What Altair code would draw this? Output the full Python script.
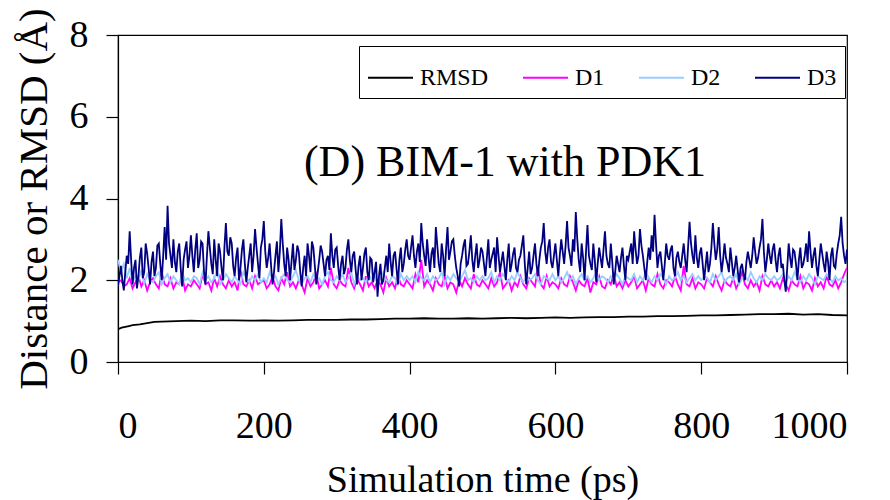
import altair as alt
import pandas as pd

FONT = "Liberation Serif, Times New Roman, serif"

# time axes (ps)
t_d3 = list(range(0, 1001, 2))
t_dist = list(range(0, 1001, 4))

d3 = [
    1.85, 2.1, 2.35, 2.0, 1.75, 2.2, 2.6, 2.4, 3.2, 2.5, 1.9, 2.3, 2.5, 1.8, 2.1, 2.55, 2.8, 2.05, 2.2, 2.9,
    2.65, 2.3, 1.9, 2.45, 2.7, 2.1, 2.3, 2.85, 2.9, 2.4, 2.0, 2.6, 3.3, 2.5, 3.82, 2.9, 2.6, 2.3, 3.0, 2.45,
    2.2, 2.7, 2.9, 2.3, 1.85, 2.5, 2.75, 2.95, 2.3, 2.6,
    3.1, 2.6, 2.2, 2.75, 3.15, 2.3, 2.5, 2.95, 2.9, 2.2, 1.9, 2.6, 3.2, 2.8, 2.4, 2.15, 3.0, 2.5, 2.1, 2.9,
    2.7, 2.3, 2.0, 2.8, 3.4, 2.7, 2.6, 3.05, 2.9, 2.35, 2.1, 2.55, 2.8, 2.0, 2.3, 2.75, 3.0, 2.4, 1.95, 2.3,
    2.6, 2.9, 2.2, 2.6, 3.25, 2.8, 2.4, 2.05, 2.8, 3.0,
    3.45, 2.7, 2.3, 2.55, 2.9, 2.35, 1.9, 2.2, 2.6, 2.95, 2.2, 2.7, 3.5, 2.9, 2.4, 2.1, 2.8, 2.5, 2.0, 2.45,
    2.9, 2.25, 2.5, 2.85, 2.7, 2.2, 1.85, 2.3, 2.6, 2.1, 2.9, 2.6, 2.2, 2.95, 2.8, 2.35, 1.9, 2.2, 2.5, 2.85,
    2.7, 2.4, 2.1, 2.5, 2.6, 2.25, 3.15, 2.6, 2.3, 2.75,
    2.8, 2.35, 2.0, 2.4, 2.6, 2.15, 2.3, 2.75, 3.0, 2.5, 2.2, 2.6, 2.7, 2.25, 1.9, 2.35, 2.6, 2.0, 2.3, 2.65,
    2.8, 2.2, 2.0, 2.55, 2.5, 1.95, 2.2, 2.45, 1.6, 2.1, 2.4, 1.9, 2.0, 2.3, 2.6, 2.2, 2.9, 2.45, 2.1, 2.6,
    2.7, 2.3, 1.9, 2.5, 2.8, 2.2, 2.4, 2.75, 3.0, 2.6,
    2.5, 2.8, 3.1, 2.6, 2.3, 2.7, 2.9, 2.45, 3.4, 2.9, 2.6, 2.35, 3.0, 2.55, 2.2, 2.65, 2.8, 2.3, 3.3, 2.85,
    2.4, 2.2, 2.9, 2.6, 2.1, 2.75, 3.3, 2.5, 2.7, 2.95, 3.0, 2.6, 2.3, 2.1, 1.85, 2.4, 2.6, 2.85, 3.0, 2.35,
    2.4, 2.7, 3.1, 2.5, 2.2, 2.6, 2.9, 2.3, 2.5, 2.8,
    2.7, 2.4, 2.1, 2.55, 3.0, 2.3, 2.5, 2.65, 2.8, 2.2, 3.05, 2.6, 2.2, 2.45, 2.7, 2.35, 2.0, 2.5, 2.9, 2.2,
    2.4, 2.65, 2.8, 2.3, 2.2, 2.5, 2.6, 2.85, 3.1, 2.4, 1.9, 2.3, 2.7, 2.15, 2.3, 2.6, 2.9, 2.4, 2.1, 2.5,
    2.8, 2.95, 3.4, 2.7, 2.4, 2.8, 3.0, 2.45, 2.3, 2.6,
    2.9, 2.5, 2.1, 2.6, 3.0, 2.7, 2.4, 2.85, 3.45, 2.8, 2.6, 2.35, 3.0, 2.7, 3.67, 3.0, 2.5, 2.2, 2.9, 2.55,
    2.0, 2.7, 3.35, 2.6, 2.4, 2.25, 2.9, 2.5, 1.95, 2.4, 2.8, 2.55, 2.3, 2.75, 3.2, 2.6, 2.4, 2.3, 2.9, 2.45,
    1.9, 2.2, 2.6, 2.4, 2.2, 2.55, 2.8, 2.35, 2.0, 2.6,
    2.5, 2.7, 2.9, 2.4, 3.2, 2.75, 2.4, 2.6, 3.25, 2.85, 2.6, 2.3, 2.0, 2.45, 2.8, 2.5, 3.1, 2.7, 3.6, 2.9,
    2.3, 2.6, 2.7, 2.35, 2.0, 2.4, 2.9, 2.6, 2.5, 2.75, 2.85, 2.3, 2.1, 2.55, 2.7, 2.45, 2.3, 2.6, 2.9, 2.5,
    2.2, 2.8, 3.43, 2.9, 2.6, 2.4, 3.1, 2.55, 2.3, 2.65,
    2.8, 2.4, 2.0, 2.35, 2.7, 2.2, 2.4, 2.8, 3.4, 2.9, 2.5, 2.75, 3.3, 2.6, 2.2, 2.5, 2.9, 2.55, 2.4, 2.2,
    2.8, 2.45, 2.1, 2.3, 2.6, 2.25, 1.95, 2.3, 2.4, 2.15, 2.0, 2.45, 2.7, 2.5, 2.3, 2.6, 3.05, 2.7, 2.4, 2.55,
    2.8, 3.0, 3.5, 2.7, 2.2, 2.5, 2.9, 2.6, 2.4, 2.75,
    2.9, 2.5, 2.2, 2.6, 2.8, 2.3, 2.4, 2.0, 1.72, 2.3, 2.9, 2.55, 2.3, 2.75, 2.7, 2.4, 2.0, 2.5, 2.8, 2.3,
    2.4, 2.6, 2.9, 2.45, 3.2, 2.7, 2.3, 2.6, 2.8, 2.35, 2.1, 2.5, 2.9, 2.65, 2.4, 2.2, 2.7, 2.45, 2.0, 2.6,
    2.8, 2.35, 2.3, 2.65, 2.9, 3.1, 3.55, 2.9, 2.6, 2.4, 2.75,
]

d1 = [
    1.95, 2.0, 1.85, 1.9, 2.05, 1.8, 1.95, 2.1, 1.85, 2.0, 1.75, 1.95, 2.05, 1.9, 1.8, 2.2, 1.9, 1.85, 2.05, 1.8, 1.95, 1.9, 2.1, 1.75, 1.9,
    1.85, 2.0, 1.9, 1.8, 2.15, 1.9, 1.95, 1.75, 2.05, 1.85, 2.1, 1.9, 1.8, 2.0, 1.85, 1.95, 1.75, 2.25, 1.9, 1.85, 2.0, 1.8, 2.1, 1.9, 1.95,
    2.0, 1.8, 1.9, 2.1, 1.85, 1.75, 2.05, 1.9, 2.2, 1.85, 1.95, 1.8, 2.0, 1.9, 1.7, 2.05, 1.85, 1.95, 2.15, 1.8, 1.9, 2.0, 1.85, 2.3, 1.9,
    1.8, 2.0, 1.9, 1.85, 2.3, 1.95, 1.8, 2.05, 1.9, 1.75, 2.1, 1.85, 1.95, 1.8, 2.0, 1.9, 1.7, 2.05, 1.85, 1.95, 1.8, 2.1, 1.9, 1.85, 2.0,
    1.9, 1.8, 2.15, 1.95, 2.5, 1.85, 2.0, 1.9, 1.75, 2.05, 1.9, 1.85, 2.1, 1.8, 1.95, 1.9, 1.7, 2.0, 1.85, 2.05, 1.9, 1.8, 2.15, 1.9, 1.85,
    2.0, 1.9, 1.8, 2.05, 1.85, 1.95, 2.2, 1.8, 1.9, 2.0, 1.75, 1.95, 1.85, 2.1, 1.9, 1.8, 2.05, 1.95, 1.85, 2.3, 1.9, 1.8, 2.1, 1.85, 1.95,
    1.9, 1.8, 2.05, 1.9, 1.85, 2.1, 1.95, 1.75, 2.0, 1.9, 1.85, 2.05, 1.7, 1.95, 1.9, 2.1, 1.85, 1.8, 2.0, 1.9, 2.15, 1.85, 1.95, 1.8, 2.0,
    1.85, 1.95, 2.1, 1.8, 1.9, 2.0, 1.75, 2.05, 1.9, 1.85, 2.15, 1.9, 1.8, 2.0, 1.95, 1.85, 2.1, 1.9, 1.75, 2.35, 1.9, 1.85, 2.05, 1.8, 1.95,
    1.9, 1.8, 2.05, 1.95, 1.85, 2.1, 1.9, 1.75, 2.0, 1.9, 1.85, 2.05, 1.8, 1.95, 2.2, 1.9, 1.8, 2.0, 1.85, 1.95, 1.75, 2.1, 1.9, 1.85, 2.0,
    1.85, 1.95, 1.8, 2.05, 1.9, 1.75, 2.0, 1.9, 1.85, 2.1, 1.8, 1.95, 1.9, 1.75, 2.05, 1.85, 1.95, 1.8, 2.1, 1.9, 1.85, 2.0, 1.8, 1.95, 2.15, 2.3,
]

d2 = [
    2.5, 2.2, 2.4, 2.05, 2.3, 1.95, 2.1, 2.0, 2.25, 1.9, 2.15, 2.0, 1.95, 2.1, 2.2, 1.9, 2.05, 2.15, 1.95, 2.1, 2.0, 1.9, 2.2, 2.0, 2.05,
    1.95, 2.1, 2.05, 1.9, 2.2, 2.0, 2.1, 1.95, 2.05, 2.25, 1.9, 2.0, 2.15, 2.05, 1.95, 2.1, 2.0, 1.9, 2.2, 2.05, 1.95, 2.1, 2.0, 2.15, 1.95,
    2.05, 1.95, 2.2, 2.0, 2.1, 1.9, 2.05, 2.15, 2.0, 1.95, 2.1, 2.25, 2.0, 1.9, 2.05, 2.1, 1.95, 2.15, 2.0, 2.05, 1.9, 2.1, 2.2, 2.0, 1.95,
    2.1, 2.0, 2.15, 1.95, 2.05, 2.2, 1.9, 2.1, 2.0, 2.05, 1.95, 2.15, 2.0, 2.1, 1.9, 2.05, 2.2, 2.0, 1.95, 2.1, 2.05, 1.9, 2.15, 2.0, 2.1,
    2.0, 2.1, 1.95, 2.2, 2.05, 2.0, 2.15, 1.95, 2.1, 2.0, 2.05, 2.2, 1.9, 2.1, 2.0, 2.15, 2.05, 1.95, 2.1, 2.25, 2.0, 2.05, 1.95, 2.1, 2.0,
    2.1, 2.0, 2.05, 2.2, 1.95, 2.1, 2.0, 2.15, 2.05, 1.95, 2.1, 2.0, 2.2, 2.05, 1.95, 2.1, 2.0, 2.05, 2.15, 2.0, 1.9, 2.1, 2.05, 2.0, 2.15,
    2.0, 2.1, 1.95, 2.05, 2.2, 2.0, 2.1, 1.9, 2.05, 2.15, 2.0, 2.1, 1.95, 2.05, 2.2, 2.0, 2.1, 2.05, 1.95, 2.1, 2.0, 2.15, 2.05, 1.9, 2.1,
    2.05, 2.0, 2.15, 1.95, 2.1, 2.0, 2.2, 2.05, 1.95, 2.1, 2.0, 2.15, 2.05, 1.9, 2.1, 2.0, 2.05, 2.2, 2.0, 2.1, 1.95, 2.05, 2.15, 2.0, 2.1,
    2.0, 2.1, 2.05, 1.95, 2.15, 2.0, 2.1, 2.2, 1.95, 2.05, 2.1, 2.0, 2.15, 1.9, 2.05, 2.1, 2.0, 2.2, 2.05, 1.95, 2.1, 2.0, 2.15, 2.05, 2.0,
    2.1, 2.0, 2.05, 2.15, 1.95, 2.1, 2.0, 2.2, 2.05, 1.95, 2.1, 2.0, 2.15, 2.05, 1.9, 2.1, 2.05, 2.0, 2.15, 2.05, 1.95, 2.1, 2.0, 2.05, 1.95, 2.0,
]

rmsd_t = [0, 5, 10, 15, 20, 30, 40, 50, 60, 80] + list(range(100, 1001, 20))
rmsd = [
    0.80, 0.84, 0.86, 0.88, 0.90, 0.92, 0.95, 0.98, 0.99, 1.00,
    1.01, 1.00, 1.02, 1.02, 1.01, 1.02, 1.01, 1.02, 1.03, 1.03,
    1.03, 1.04, 1.04, 1.05, 1.06, 1.06, 1.07, 1.06, 1.06, 1.07,
    1.06, 1.07, 1.08, 1.07, 1.08, 1.09, 1.08, 1.09, 1.10, 1.10,
    1.11, 1.11, 1.12, 1.12, 1.13, 1.14, 1.14, 1.15, 1.16, 1.17,
    1.17, 1.18, 1.16, 1.17, 1.15, 1.14,
]

series_names = ["RMSD", "D1", "D2", "D3"]
series_colors = ["#000000", "#FF00FF", "#99CCFF", "#000080"]
x_ticks = [0, 200, 400, 600, 800, 1000]
y_ticks = [0, 2, 4, 6, 8]
panel_label = "(D) BIM-1 with PDK1"


def frame(name, ts, vs):
    n = min(len(ts), len(vs))
    return pd.DataFrame({"time": ts[:n], "value": vs[:n], "series": [name] * n})


color = alt.Color(
    "series:N",
    scale=alt.Scale(domain=series_names, range=series_colors),
    legend=alt.Legend(
        orient="none", legendX=241, legendY=11, direction="horizontal", columns=4,
        title=None, symbolType="stroke", symbolSize=2025, symbolStrokeWidth=2,
        labelFont=FONT, labelFontSize=24, labelColor="black", labelOffset=6,
        columnPadding=30, padding=8, fillColor="white", strokeColor="black",
    ),
)

x = alt.X(
    "time:Q",
    scale=alt.Scale(domain=[0, 1000], nice=False, zero=False),
    axis=alt.Axis(values=x_ticks, format="d", title="Simulation time (ps)", grid=False,
                  tickSize=12, labelPadding=33, titlePadding=16,
                  labelFont=FONT, titleFont=FONT, labelFontSize=38, titleFontSize=38),
)
y = alt.Y(
    "value:Q",
    scale=alt.Scale(domain=[0, 8], nice=False),
    axis=alt.Axis(values=y_ticks, format="d", title="Distance or RMSD (Å)", grid=False,
                  tickSize=12, labelPadding=18, titlePadding=14,
                  labelFont=FONT, titleFont=FONT, labelFontSize=38, titleFontSize=41),
)

layers = []
for name, ts, vs in [("RMSD", rmsd_t, rmsd), ("D1", t_dist, d1), ("D2", t_dist, d2), ("D3", t_d3, d3)]:
    layers.append(
        alt.Chart(frame(name, ts, vs)).mark_line(strokeWidth=1.8, clip=True).encode(x=x, y=y, color=color)
    )

label = alt.Chart(pd.DataFrame({"label": [panel_label]})).mark_text(
    font=FONT, fontSize=44, align="center", baseline="middle", color="black"
).encode(x=alt.value(387), y=alt.value(128), text="label:N")

chart = alt.layer(*layers, label).properties(
    width=729, height=327,
    autosize=alt.AutoSizeParams(type="none"),
    padding={"left": 110, "top": 27, "right": 35, "bottom": 140},
).configure(
    font=FONT
).configure_view(
    stroke="black", strokeWidth=1.2
).configure_axis(
    labelColor="black", titleColor="black", domainColor="black", tickColor="black",
    titleFontWeight="normal", domainWidth=1.2, tickWidth=1.2,
)

chart.save("out.html", embed_options={"renderer": "svg", "actions": False})
